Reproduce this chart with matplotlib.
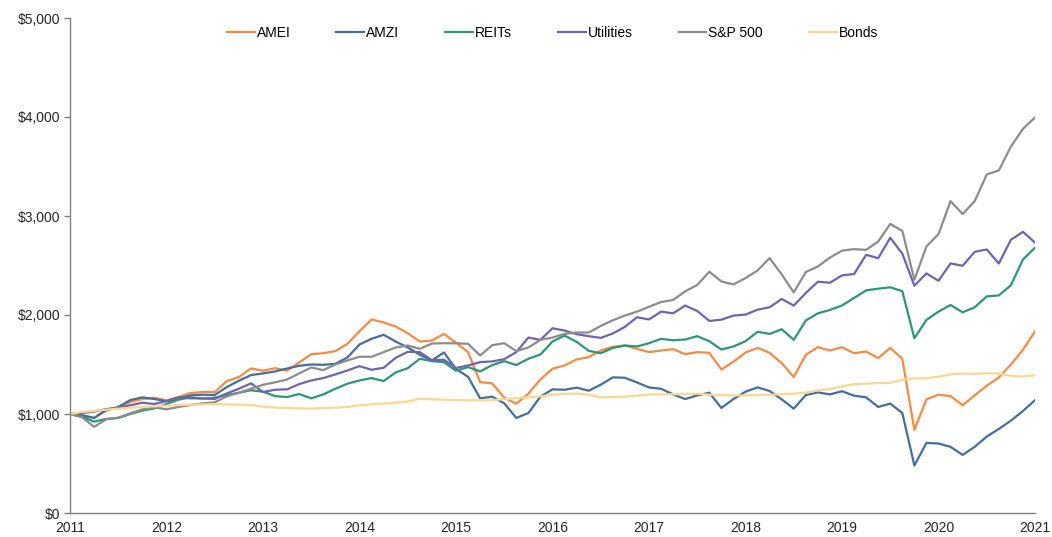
import matplotlib
matplotlib.use("Agg")
import matplotlib.pyplot as plt
from matplotlib.ticker import FuncFormatter

# ==== data: growth of $1,000, sampled every 1.5 months (2011.0 .. 2021.0) ====

x_years = [2011 + i * 0.125 for i in range(81)]

amei = [1000, 987, 960, 1047, 1060, 1121, 1151, 1164, 1138, 1172, 1212, 1222, 1222, 1332, 1373, 1460, 1437,
        1463, 1437, 1521, 1604, 1614, 1635, 1709, 1836, 1955, 1925, 1883, 1816, 1732, 1742, 1809, 1720,
        1625, 1322, 1309, 1165, 1104, 1205, 1349, 1457, 1490, 1551, 1574, 1641, 1679, 1692, 1658, 1625,
        1641, 1655, 1604, 1625, 1618, 1450, 1527, 1621, 1668, 1618, 1514, 1373, 1598, 1675, 1641, 1675,
        1614, 1631, 1564, 1668, 1557, 840, 1148, 1195, 1181, 1088, 1188, 1286, 1369, 1500, 1648, 1835]

amzi = [1000, 987, 960, 1037, 1071, 1141, 1168, 1151, 1128, 1158, 1188, 1195, 1192, 1272, 1336, 1393, 1410,
        1430, 1460, 1487, 1500, 1497, 1507, 1571, 1702, 1760, 1800, 1732, 1672, 1598, 1541, 1621, 1455,
        1376, 1158, 1175, 1108, 960, 1010, 1175, 1249, 1245, 1266, 1235, 1296, 1370, 1366, 1319, 1268,
        1255, 1198, 1151, 1188, 1215, 1061, 1151, 1225, 1269, 1232, 1148, 1054, 1191, 1218, 1198, 1230,
        1185, 1168, 1071, 1105, 1010, 480, 708, 702, 668, 587, 668, 772, 849, 933, 1030, 1140]

reits = [1000, 973, 923, 950, 960, 1000, 1034, 1057, 1101, 1145, 1168, 1155, 1165, 1192, 1215, 1240, 1225,
         1181, 1171, 1202, 1158, 1198, 1255, 1306, 1339, 1363, 1333, 1420, 1463, 1558, 1534, 1524, 1437,
         1474, 1430, 1494, 1534, 1494, 1558, 1601, 1732, 1792, 1729, 1638, 1614, 1668, 1692, 1682, 1715,
         1759, 1745, 1752, 1786, 1735, 1651, 1682, 1735, 1830, 1809, 1856, 1749, 1944, 2017, 2051, 2096,
         2172, 2249, 2266, 2280, 2240, 1765, 1950, 2034, 2101, 2027, 2078, 2188, 2198, 2300, 2560, 2680]

utilities = [1000, 1010, 1024, 1050, 1060, 1088, 1114, 1101, 1131, 1168, 1158, 1158, 1151, 1208, 1255, 1310, 1222,
             1245, 1249, 1302, 1339, 1363, 1400, 1440, 1483, 1447, 1467, 1568, 1628, 1625, 1544, 1548, 1465,
             1490, 1524, 1531, 1554, 1625, 1772, 1749, 1866, 1843, 1806, 1786, 1769, 1813, 1880, 1977, 1955,
             2034, 2017, 2095, 2041, 1940, 1953, 1994, 2004, 2054, 2078, 2162, 2095, 2222, 2336, 2326, 2400,
             2414, 2608, 2574, 2780, 2620, 2296, 2420, 2346, 2521, 2497, 2638, 2662, 2520, 2760, 2840, 2732]

sp500 = [1000, 967, 870, 947, 963, 1007, 1047, 1067, 1047, 1071, 1091, 1107, 1118, 1178, 1215, 1255, 1295,
         1320, 1349, 1410, 1470, 1443, 1500, 1541, 1578, 1578, 1625, 1672, 1692, 1658, 1712, 1715, 1714,
         1709, 1591, 1695, 1715, 1635, 1672, 1749, 1772, 1809, 1823, 1823, 1890, 1947, 1994, 2034, 2083,
         2131, 2152, 2239, 2303, 2437, 2339, 2309, 2373, 2450, 2575, 2410, 2228, 2434, 2490, 2580, 2650,
         2665, 2658, 2742, 2920, 2850, 2356, 2692, 2817, 3150, 3020, 3150, 3420, 3460, 3700, 3880, 3995]

bonds = [1000, 1020, 1031, 1044, 1054, 1064, 1071, 1077, 1084, 1091, 1094, 1097, 1101, 1097, 1094, 1091, 1074,
         1065, 1060, 1056, 1055, 1060, 1064, 1070, 1088, 1098, 1105, 1115, 1125, 1155, 1148, 1145, 1140,
         1138, 1138, 1140, 1150, 1160, 1168, 1178, 1195, 1203, 1205, 1195, 1168, 1172, 1175, 1185, 1197,
         1198, 1200, 1200, 1205, 1195, 1190, 1188, 1188, 1190, 1195, 1198, 1205, 1215, 1238, 1252, 1280,
         1300, 1306, 1312, 1316, 1345, 1360, 1360, 1378, 1400, 1410, 1405, 1412, 1408, 1385, 1378, 1392]

series_names = ['AMEI', 'AMZI', 'REITs', 'Utilities', 'S&P 500', 'Bonds']
series_vals = [amei, amzi, reits, utilities, sp500, bonds]
series_colors = ['#F58B45', '#456D9E', '#2E9677', '#6E64B2', '#8C8C8C', '#FDD693']

year_ticks = list(range(2011, 2022))

# ==== 图表 ====

plt.rcParams['font.family'] = ['Liberation Sans', 'DejaVu Sans']

fig = plt.figure(figsize=(10.52, 5.37), dpi=100)
ax = fig.add_axes([70 / 1052, 24 / 537, 965 / 1052, 495 / 537])

for name, vals, col in zip(series_names, series_vals, series_colors):
    ax.plot(x_years, vals, color=col, lw=1.6, label=name, solid_joinstyle='round')

ax.set_xlim(2011, 2021)
ax.set_ylim(0, 5000)
ax.set_xticks(year_ticks)
ax.set_yticks(range(0, 5001, 1000))
ax.yaxis.set_major_formatter(FuncFormatter(lambda v, p: '${:,.0f}'.format(v)))

for s in ['top', 'right']:
    ax.spines[s].set_visible(False)
for s in ['left', 'bottom']:
    ax.spines[s].set_color('#808080')
    ax.spines[s].set_linewidth(1.0)

ax.tick_params(axis='x', length=0, pad=6, labelsize=10, labelcolor='#262626')
ax.tick_params(axis='y', length=4, width=1, color='#808080', pad=3, labelsize=10, labelcolor='#262626')

ax.legend(loc='upper center', bbox_to_anchor=(0.5, 1.0), ncol=6, frameon=False,
          fontsize=10, handlelength=2.0, handletextpad=0.15, columnspacing=3.3,
          borderaxespad=0.2)

fig.savefig('out.png', dpi=100)
